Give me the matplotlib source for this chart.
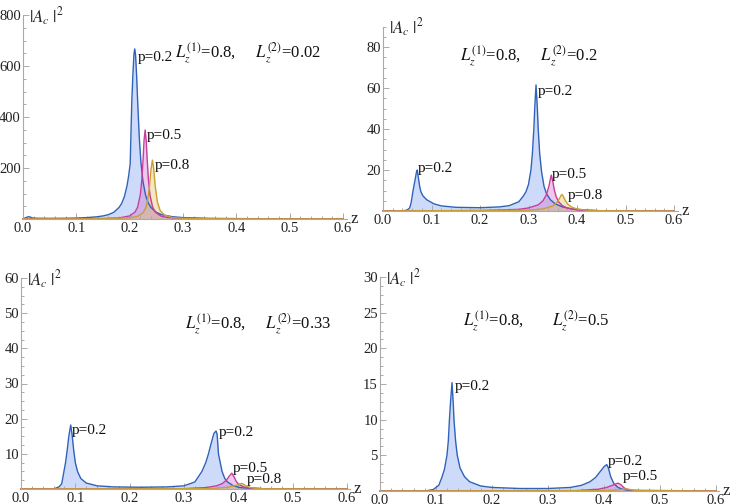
import matplotlib
matplotlib.use("Agg")
import matplotlib.pyplot as plt
from matplotlib.ticker import MultipleLocator, FixedLocator, FuncFormatter

plt.rcParams['font.family'] = ['Liberation Serif', 'DejaVu Serif']
plt.rcParams['mathtext.fontset'] = 'stix'

# ---------------- data ----------------
# Panel 1: Lz1=0.8, Lz2=0.02
p1_blue_z = [0, 0.005, 0.01, 0.013, 0.018, 0.025, 0.05, 0.08, 0.1, 0.12, 0.14, 0.15, 0.16, 0.17, 0.18,
             0.185, 0.19, 0.195, 0.198, 0.201, 0.204, 0.206, 0.208, 0.2095, 0.211, 0.213, 0.215, 0.218,
             0.221, 0.225, 0.23, 0.235, 0.24, 0.25, 0.26, 0.28, 0.3, 0.35, 0.4, 0.5, 0.6]
p1_blue_y = [0, 5, 9, 8, 4, 3, 2.5, 3, 3.7, 5.5, 9, 12, 17, 26, 45,
             61, 87, 130, 168, 217, 460, 564, 645, 667, 645, 564, 460, 321,
             225, 146, 92, 62, 45, 26, 17, 9, 5.5, 2.5, 1.5, 0.8, 0.5]
p1_mag_z = [0, 0.1, 0.15, 0.18, 0.2, 0.21, 0.215, 0.22, 0.223, 0.225, 0.227, 0.229, 0.231, 0.233,
            0.235, 0.238, 0.243, 0.248, 0.258, 0.27, 0.3, 0.35, 0.4, 0.5, 0.6]
p1_mag_y = [0.3, 1, 2, 4.3, 12, 27, 47, 95, 159, 228, 308, 349, 308, 228,
            159, 95, 47, 27, 12, 6, 2, 0.8, 0.4, 0.2, 0.1]
p1_gold_z = [0, 0.1, 0.15, 0.2, 0.215, 0.225, 0.23, 0.234, 0.237, 0.24, 0.2426, 0.245, 0.248, 0.252,
             0.257, 0.265, 0.28, 0.3, 0.35, 0.4, 0.6]
p1_gold_y = [0.2, 0.5, 1, 4.5, 10.5, 24, 43, 76, 124, 194, 231, 199, 128, 67,
             34, 15.5, 5.8, 2.5, 1, 0.5, 0.2]

# Panel 2: Lz1=0.8, Lz2=0.2
p2_blue_z = [0, 0.03, 0.04, 0.05, 0.055, 0.058, 0.062, 0.066, 0.069, 0.0707, 0.073, 0.076, 0.078, 0.082,
             0.09, 0.096, 0.105, 0.12, 0.15, 0.2, 0.24, 0.26, 0.28, 0.29, 0.295, 0.3, 0.305, 0.308,
             0.311, 0.313, 0.3155, 0.318, 0.32, 0.323, 0.327, 0.332, 0.337, 0.345, 0.355, 0.37, 0.39,
             0.42, 0.45, 0.5, 0.6]
p2_blue_y = [0, 0, 0, 0.5, 1.5, 4, 10, 15, 19, 20, 16, 11.5, 9.5, 7.5,
             5.5, 4.7, 3.5, 2.5, 1.8, 1.6, 2.0, 2.6, 4.5, 7.5, 9.5, 13, 20, 28,
             40, 51, 61.5, 51, 40, 28, 19, 12, 8.5, 5.5, 3.5, 2, 1,
             0.4, 0.1, 0, 0]
p2_mag_z = [0, 0.2, 0.28, 0.3, 0.32, 0.33, 0.337, 0.342, 0.345, 0.347, 0.35, 0.353, 0.357, 0.362,
            0.37, 0.38, 0.4, 0.45, 0.6]
p2_mag_y = [0, 0.2, 0.8, 1.5, 3, 5, 8, 12, 15.5, 17.5, 14.5, 10.5, 7, 4.5,
            2.6, 1.4, 0.5, 0.1, 0]
p2_gold_z = [0, 0.3, 0.33, 0.35, 0.358, 0.363, 0.367, 0.369, 0.372, 0.376, 0.381, 0.39, 0.4, 0.42,
             0.45, 0.6]
p2_gold_y = [0, 0.4, 1, 2.5, 4, 5.8, 7.5, 8.1, 7, 5, 3.3, 1.8, 1, 0.4,
             0.1, 0]

# Panel 3: Lz1=0.8, Lz2=0.33
p3_blue_z = [0, 0.06, 0.07, 0.075, 0.079, 0.082, 0.085, 0.088, 0.0915, 0.094, 0.097, 0.1, 0.104,
             0.11, 0.12, 0.14, 0.17, 0.22, 0.27, 0.3, 0.32, 0.333, 0.34, 0.345, 0.35, 0.355, 0.359,
             0.361, 0.3634, 0.37, 0.375, 0.38, 0.39, 0.4, 0.41, 0.45, 0.6]
p3_blue_y = [0, 0, 0.6, 1.5, 5, 7.5, 11, 15, 18.2, 15.5, 11, 7.5, 5,
             3, 1.7, 0.9, 0.6, 0.5, 0.6, 0.9, 2, 5, 7.5, 10, 13, 15.8, 16.5,
             15.5, 10, 5, 3, 2, 1, 0.5, 0.3, 0.05, 0]
p3_mag_z = [0, 0.3, 0.34, 0.36, 0.37, 0.378, 0.383, 0.388, 0.392, 0.396, 0.4, 0.41, 0.42, 0.45, 0.6]
p3_mag_y = [0, 0.1, 0.4, 0.9, 1.5, 2.5, 3.6, 4.5, 3.5, 2.2, 1.4, 0.6, 0.3, 0.05, 0]
p3_gold_z = [0, 0.35, 0.38, 0.395, 0.402, 0.406, 0.41, 0.415, 0.42, 0.43, 0.45, 0.6]
p3_gold_y = [0, 0.1, 0.5, 1, 1.4, 1.6, 1.3, 0.8, 0.5, 0.2, 0.05, 0]

# Panel 4: Lz1=0.8, Lz2=0.5
p4_blue_z = [0, 0.08, 0.095, 0.105, 0.11, 0.115, 0.1196, 0.122, 0.124, 0.126, 0.1286, 0.131, 0.1321,
             0.135, 0.138, 0.143, 0.151, 0.16, 0.18, 0.2, 0.25, 0.3, 0.34, 0.36, 0.375, 0.385, 0.393,
             0.4, 0.405, 0.408, 0.412, 0.418, 0.425, 0.435, 0.45, 0.6]
p4_blue_y = [0, 0, 0.2, 0.8, 1.8, 3, 5, 7, 10, 12.5, 15.2, 12, 10,
             7, 5, 3.2, 2, 1.3, 0.7, 0.5, 0.35, 0.35, 0.5, 0.8, 1.3, 1.9, 2.7,
             3.4, 3.7, 3.2, 2, 1.0, 0.5, 0.2, 0.05, 0]
p4_mag_z = [0, 0.35, 0.39, 0.405, 0.415, 0.425, 0.43, 0.435, 0.44, 0.45, 0.6]
p4_mag_y = [0, 0.05, 0.25, 0.5, 0.8, 1.1, 0.9, 0.5, 0.25, 0.1, 0]
p4_gold_z = [0, 0.4, 0.425, 0.44, 0.45, 0.46, 0.6]
p4_gold_y = [0, 0.05, 0.15, 0.3, 0.15, 0.05, 0]

panel_titles = [r'$L_z^{(1)}$=0.8,     $L_z^{(2)}$=0.02',
                r'$L_z^{(1)}$=0.8,     $L_z^{(2)}$=0.2',
                r'$L_z^{(1)}$=0.8,     $L_z^{(2)}$=0.33',
                r'$L_z^{(1)}$=0.8,       $L_z^{(2)}$=0.5']
y_major = [200, 20, 10, 5]
y_max = [800, 90, 60, 30]
x_ticks = [0.0, 0.1, 0.2, 0.3, 0.4, 0.5, 0.6]

# ---------------- style ----------------
W, H = 736, 504
BLUE, BLUE_F = '#2f63b9', '#7f9ff0'
MAG, MAG_F = '#c83c9c', '#d070d0'
GOLD, GOLD_F = '#c8a032', '#e0c060'
AXC = '#aaaaaa'

fig = plt.figure(figsize=(W / 100, H / 100), dpi=100)


def make_axes(l, t, r, b, zright, ymax, ymaj):
    ax = fig.add_axes([l / W, 1 - b / H, (r - l) / W, (b - t) / H])
    ax.set_xlim(0, zright)
    ax.set_ylim(0, ymax)
    for s in ['top', 'right']:
        ax.spines[s].set_visible(False)
    for s in ['left', 'bottom']:
        ax.spines[s].set_color(AXC)
        ax.spines[s].set_linewidth(0.8)
    ax.set_facecolor('none')
    ax.xaxis.set_major_locator(FixedLocator(x_ticks))
    ax.xaxis.set_minor_locator(MultipleLocator(0.02))
    ax.xaxis.set_major_formatter(FuncFormatter(lambda v, p: f'{v:.1f}'))
    yt = [v for v in range(ymaj, ymax + 1, ymaj)]
    ax.yaxis.set_major_locator(FixedLocator(yt))
    ax.yaxis.set_minor_locator(MultipleLocator(ymaj / 4))
    ax.yaxis.set_major_formatter(FuncFormatter(lambda v, p: f'{int(v)}'))
    ax.tick_params(which='both', direction='in', color=AXC, width=0.7, labelsize=10.5,
                   labelcolor='#222222')
    ax.tick_params(which='major', length=4, pad=1.5)
    ax.tick_params(which='minor', length=2)
    ax.tick_params(axis='x', pad=2)
    ax.text(1.0, 0.0, ' z', transform=ax.transAxes, ha='left', va='center', fontsize=12,
            color='#222222')
    ax.annotate(r'$|A_c\ |^2$', xy=(0, 1), xycoords='axes fraction', xytext=(4, -1),
                textcoords='offset points', ha='left', va='center', fontsize=12, color='#222222')
    return ax


def curve(ax, z, y, lc, fc):
    ax.fill_between(z, 0, y, color=fc, alpha=0.38, lw=0)
    ax.plot(z, y, color=lc, lw=1.0, clip_on=False)


def plabel(ax, x, y, s='p=0.2'):
    ax.text(x, y, s, ha='left', va='center', fontsize=11, color='#111111')


# panel 1
ax1 = make_axes(23, 15, 347, 219, 0.6075, y_max[0], y_major[0])
curve(ax1, p1_blue_z, p1_blue_y, BLUE, BLUE_F)
curve(ax1, p1_mag_z, p1_mag_y, MAG, MAG_F)
curve(ax1, p1_gold_z, p1_gold_y, GOLD, GOLD_F)
plabel(ax1, 0.2144, 634, 'p=0.2')
plabel(ax1, 0.232, 329, 'p=0.5')
plabel(ax1, 0.2475, 209, 'p=0.8')

# panel 2
ax2 = make_axes(383, 26.5, 678, 211, 0.6082, y_max[1], y_major[1])
curve(ax2, p2_blue_z, p2_blue_y, BLUE, BLUE_F)
curve(ax2, p2_mag_z, p2_mag_y, MAG, MAG_F)
curve(ax2, p2_gold_z, p2_gold_y, GOLD, GOLD_F)
plabel(ax2, 0.0722, 20.8, 'p=0.2')
plabel(ax2, 0.3196, 58.2, 'p=0.2')
plabel(ax2, 0.347, 18, 'p=0.5')
plabel(ax2, 0.3814, 7.8, 'p=0.8')

# panel 3
ax3 = make_axes(21, 278, 350, 489, 0.6055, y_max[2], y_major[2])
curve(ax3, p3_blue_z, p3_blue_y, BLUE, BLUE_F)
curve(ax3, p3_mag_z, p3_mag_y, MAG, MAG_F)
curve(ax3, p3_gold_z, p3_gold_y, GOLD, GOLD_F)
plabel(ax3, 0.0933, 16.5, 'p=0.2')
plabel(ax3, 0.3634, 16.0, 'p=0.2')
plabel(ax3, 0.389, 5.9, 'p=0.5')
plabel(ax3, 0.4156, 2.6, 'p=0.8')

# panel 4
ax4 = make_axes(380, 277, 719, 491, 0.6054, y_max[3], y_major[3])
curve(ax4, p4_blue_z, p4_blue_y, BLUE, BLUE_F)
curve(ax4, p4_mag_z, p4_mag_y, MAG, MAG_F)
curve(ax4, p4_gold_z, p4_gold_y, GOLD, GOLD_F)
plabel(ax4, 0.1333, 14.7, 'p=0.2')
plabel(ax4, 0.407, 4.1, 'p=0.2')
plabel(ax4, 0.434, 2.1, 'p=0.5')

# parameter annotations (figure pixel positions: left, baseline)
for (px, py), s in zip([(175, 57), (460, 60), (185, 328), (463, 325)], panel_titles):
    fig.text(px / W, 1 - py / H, s, ha='left', va='baseline', fontsize=12, color='#111111')

fig.savefig('out.png', dpi=100)
